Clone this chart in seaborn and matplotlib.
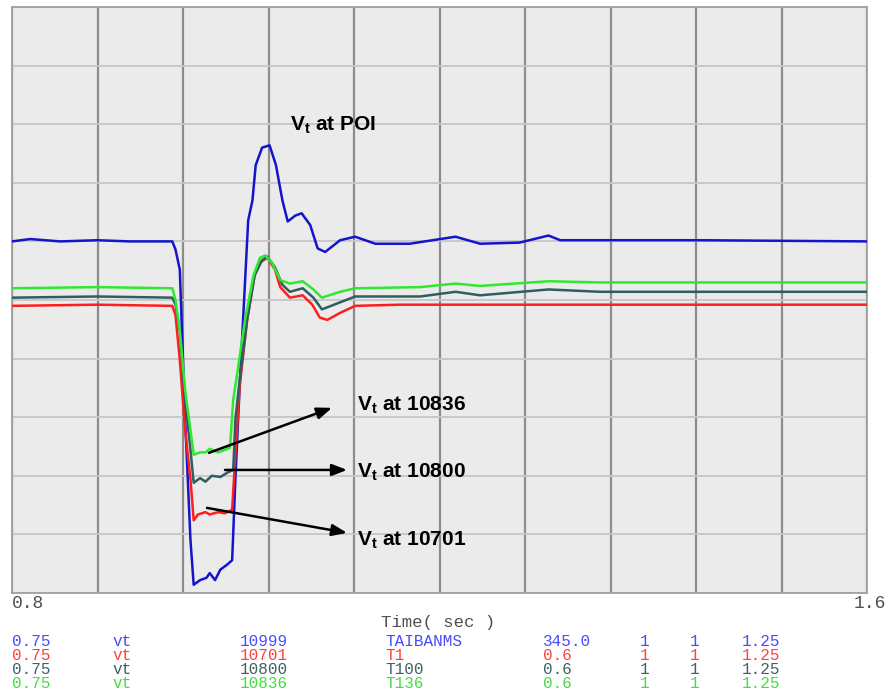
import numpy as np
import pandas as pd
import matplotlib
matplotlib.use("Agg")
import matplotlib.pyplot as plt
import seaborn as sns

# ---- data ----
blue_t = [0.800, 0.817, 0.845, 0.880, 0.910, 0.950, 0.953, 0.957, 0.962, 0.967, 0.970, 0.976, 0.982,
          0.985, 0.990, 0.995, 1.001, 1.006, 1.009, 1.013, 1.021, 1.025, 1.028, 1.034, 1.041, 1.047,
          1.053, 1.058, 1.065, 1.071, 1.079, 1.086, 1.093, 1.107, 1.121, 1.140, 1.172, 1.215, 1.238,
          1.275, 1.302, 1.313, 1.350, 1.444, 1.600]
blue_v = [1.050, 1.052, 1.050, 1.051, 1.050, 1.050, 1.043, 1.026, 0.898, 0.795, 0.757, 0.761, 0.763,
          0.767, 0.761, 0.770, 0.774, 0.778, 0.847, 0.926, 1.068, 1.085, 1.115, 1.130, 1.132, 1.115,
          1.085, 1.067, 1.072, 1.074, 1.064, 1.044, 1.041, 1.051, 1.054, 1.048, 1.048, 1.054, 1.048,
          1.049, 1.055, 1.051, 1.051, 1.051, 1.050]

red_t = [0.800, 0.880, 0.950, 0.953, 0.957, 0.962, 0.967, 0.970, 0.974, 0.981, 0.985, 0.993, 0.999,
         1.006, 1.009, 1.013, 1.020, 1.027, 1.032, 1.039, 1.046, 1.051, 1.060, 1.072, 1.081, 1.088,
         1.095, 1.107, 1.121, 1.163, 1.600]
red_v = [0.995, 0.996, 0.995, 0.987, 0.949, 0.889, 0.847, 0.812, 0.817, 0.819, 0.817, 0.819, 0.818,
         0.821, 0.868, 0.926, 0.983, 1.021, 1.032, 1.036, 1.026, 1.011, 1.002, 1.004, 0.996, 0.985,
         0.983, 0.989, 0.995, 0.996, 0.996]

teal_t = [0.800, 0.880, 0.950, 0.953, 0.957, 0.962, 0.967, 0.970, 0.976, 0.981, 0.987, 0.995, 1.002,
          1.007, 1.009, 1.013, 1.020, 1.027, 1.034, 1.039, 1.046, 1.053, 1.060, 1.072, 1.082, 1.090,
          1.107, 1.121, 1.182, 1.215, 1.238, 1.302, 1.350, 1.600]
teal_v = [1.002, 1.003, 1.002, 0.996, 0.974, 0.915, 0.872, 0.844, 0.848, 0.845, 0.850, 0.849, 0.853,
          0.855, 0.898, 0.932, 0.983, 1.021, 1.034, 1.037, 1.028, 1.013, 1.007, 1.010, 1.002, 0.992,
          0.998, 1.003, 1.003, 1.007, 1.004, 1.009, 1.007, 1.007]

green_t = [0.800, 0.880, 0.950, 0.953, 0.957, 0.962, 0.967, 0.970, 0.976, 0.981, 0.985, 0.993, 0.999,
           1.004, 1.007, 1.011, 1.018, 1.026, 1.032, 1.037, 1.043, 1.051, 1.060, 1.072, 1.082, 1.090,
           1.107, 1.121, 1.182, 1.215, 1.238, 1.302, 1.350, 1.600]
green_v = [1.010, 1.011, 1.010, 1.000, 0.974, 0.923, 0.889, 0.868, 0.870, 0.870, 0.873, 0.870, 0.872,
           0.874, 0.915, 0.939, 0.983, 1.021, 1.036, 1.038, 1.032, 1.017, 1.014, 1.016, 1.009, 1.002,
           1.007, 1.010, 1.011, 1.014, 1.012, 1.016, 1.015, 1.015]

x_min, x_max = 0.8, 1.6
y_min, y_max = 0.75, 1.25
x_tick_labels = ["0.8", "1.6"]
x_label = "Time( sec )"

legend_rows = [
    ["0.75", "vt", "10999", "TAIBANMS", "345.0", "1", "1", "1.25"],
    ["0.75", "vt", "10701", "T1", "0.6", "1", "1", "1.25"],
    ["0.75", "vt", "10800", "T100", "0.6", "1", "1", "1.25"],
    ["0.75", "vt", "10836", "T136", "0.6", "1", "1", "1.25"],
]

annotations = [
    (r"$\mathbf{V_t}$ at 10836", (0.9843, 0.8696), (1.0994, 0.9080), (1.1228, 0.9105)),
    (r"$\mathbf{V_t}$ at 10800", (0.9993, 0.8550), (1.1135, 0.8550), (1.1228, 0.8533)),
    (r"$\mathbf{V_t}$ at 10701", (0.9825, 0.8226), (1.1135, 0.8013), (1.1228, 0.7953)),
]
poi_label = (r"$\mathbf{V_t}$ at POI", (1.060, 1.149))

# ---- styling ----
line_colors = ["#1414cc", "#ff1e1e", "#2e5e5e", "#2fe82f"]
text_colors = ["#4a4aff", "#ff4040", "#3e6262", "#44dd44"]

plt.rcParams["mathtext.fontset"] = "custom"
plt.rcParams["mathtext.rm"] = "Liberation Sans"
plt.rcParams["mathtext.bf"] = "Liberation Sans:bold"
plt.rcParams["mathtext.it"] = "Liberation Sans:italic"

fig = plt.figure(figsize=(8.89, 6.94), dpi=100)
ax = fig.add_axes([12 / 889, 1 - 593 / 694, 855 / 889, 586 / 694])
ax.set_facecolor("#ebebeb")

series = [(blue_t, blue_v), (red_t, red_v), (teal_t, teal_v), (green_t, green_v)]
for i in range(4):
    t, v = series[i]
    df = pd.DataFrame({"t": t, "v": v})
    sns.lineplot(data=df, x="t", y="v", ax=ax, color=line_colors[i], lw=1.8, sort=False,
                 estimator=None, zorder=3 + (0 if i == 0 else 1))

ax.set_xlim(x_min, x_max)
ax.set_ylim(y_min, y_max)
ax.set_xticks(np.linspace(x_min, x_max, 11))
ax.set_yticks(np.linspace(y_min, y_max, 11))
ax.set_xticklabels([])
ax.set_yticklabels([])
ax.tick_params(length=0)
ax.set_xlabel("")
ax.set_ylabel("")
ax.xaxis.grid(True, color="#8c8c8c", lw=1.6, zorder=1)
ax.yaxis.grid(True, color="#c6c6c6", lw=1.3, zorder=1)
ax.set_axisbelow(True)
for s in ax.spines.values():
    s.set_color("#a0a0a0")
    s.set_linewidth(1.3)

mono = "Liberation Mono"
fig.text(12 / 889, 1 - 604 / 694, x_tick_labels[0], family=mono, fontsize=13, color="#505050",
         ha="left", va="center")
fig.text(886 / 889, 1 - 604 / 694, x_tick_labels[1], family=mono, fontsize=13, color="#505050",
         ha="right", va="center")
fig.text(438 / 889, 1 - 622 / 694, x_label, family=mono, fontsize=12.5, color="#505050",
         ha="center", va="center")

col_x = [12, 112, 240, 385, 543, 640, 690, 742]
row_y = [641, 655, 669, 684]
for r, row in enumerate(legend_rows):
    for c, txt in enumerate(row):
        fig.text(col_x[c] / 889, 1 - row_y[r] / 694, txt, family=mono, fontsize=11.5,
                 color=text_colors[r], ha="left", va="center")

ax.text(poi_label[1][0], poi_label[1][1], poi_label[0], fontsize=15, fontweight="bold",
        family="Liberation Sans", ha="left", va="center", zorder=6)
for label, start, end, tpos in annotations:
    ax.annotate("", xy=end, xytext=start,
                arrowprops=dict(arrowstyle="-|>,head_length=0.9,head_width=0.35", color="black",
                                lw=1.8, shrinkA=0, shrinkB=0), zorder=6)
    ax.text(tpos[0], tpos[1], label, fontsize=15, fontweight="bold", family="Liberation Sans",
            ha="left", va="center", zorder=6)

fig.savefig("out.png", dpi=100, facecolor="white")
